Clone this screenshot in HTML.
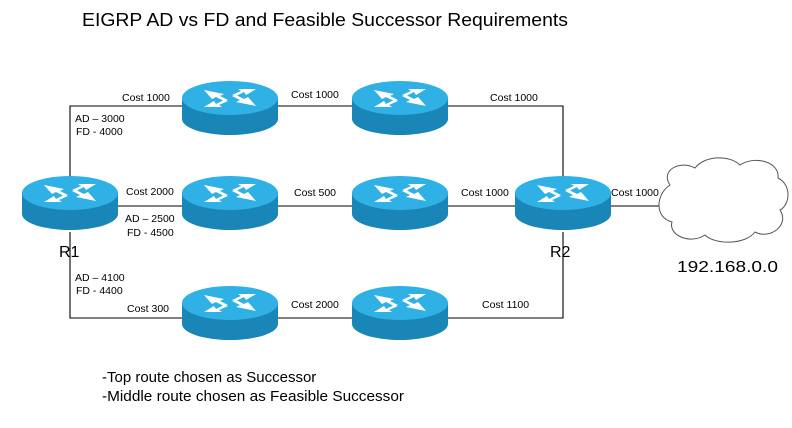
<!DOCTYPE html>
<html><head><style>
html,body{margin:0;padding:0;background:#fff;}
svg{display:block;font-family:"Liberation Sans",Arial,sans-serif;}
</style></head><body>
<svg width="792" height="428" viewBox="0 0 792 428" xmlns="http://www.w3.org/2000/svg">
<defs>
<g id="rt">
 <path d="M-48,0 L-48,21 A48,16 0 0 0 48,21 L48,0 Z" fill="#1a86b8"/>
 <ellipse cx="0" cy="0" rx="48" ry="17" fill="#2fb1e6"/>
 <g fill="#fff">
  <polygon points="-26,-8 -6,-4 -10,-2 -2,2 -6,3 -14,-1 -18,1"/>
  <polygon points="26,-9 8,-9 11,-7 2,-3 6,-2 14,-6 16,-3"/>
  <polygon points="-26,9 -8,9 -11,7 -2,3 -6,2 -14,6 -16,3"/>
  <polygon points="26,8 6,4 10,2 2,-2 6,-3 14,1 18,-1"/>
 </g>
</g>
</defs>
<text x="82" y="26" font-size="18.5" fill="#000" textLength="486" lengthAdjust="spacingAndGlyphs">EIGRP AD vs FD and Feasible Successor Requirements</text>
<g stroke="#000" stroke-width="1.1" fill="none">
 <polyline points="70,180 70,106 563,106 563,180"/>
 <line x1="70" y1="206" x2="660" y2="206"/>
 <polyline points="70,232 70,318 563,318 563,232"/>
</g>
<use href="#rt" x="70" y="193"/>
<use href="#rt" x="230" y="98"/>
<use href="#rt" x="400" y="98"/>
<use href="#rt" x="230" y="193"/>
<use href="#rt" x="400" y="193"/>
<use href="#rt" x="563" y="193"/>
<use href="#rt" x="230" y="303"/>
<use href="#rt" x="400" y="303"/>
<path d="M670,185 C660,170 680,160 695,168 C705,155 730,155 740,165 C755,155 780,162 778,178 C792,185 790,205 780,210 C790,225 770,240 755,232 C745,245 715,245 705,235 C690,245 668,235 672,222 C655,218 655,195 670,185 Z" fill="#fff" stroke="#555" stroke-width="1"/>
<g font-size="10.5" fill="#000">
 <text x="122" y="101">Cost 1000</text>
 <text x="291" y="98">Cost 1000</text>
 <text x="490" y="101">Cost 1000</text>
 <text x="75" y="122">AD – 3000</text>
 <text x="76" y="135">FD - 4000</text>
 <text x="126" y="195">Cost 2000</text>
 <text x="294" y="196">Cost 500</text>
 <text x="461" y="196">Cost 1000</text>
 <text x="611" y="196">Cost 1000</text>
 <text x="125" y="222">AD – 2500</text>
 <text x="127" y="236">FD - 4500</text>
 <text x="75" y="281">AD – 4100</text>
 <text x="76" y="294">FD - 4400</text>
 <text x="127" y="312">Cost 300</text>
 <text x="291" y="308">Cost 2000</text>
 <text x="482" y="308">Cost 1100</text>
</g>
<text x="59" y="257" font-size="16">R1</text>
<text x="550" y="257" font-size="16">R2</text>
<text x="677" y="272" font-size="15.5" textLength="101" lengthAdjust="spacingAndGlyphs">192.168.0.0</text>
<text x="102" y="382" font-size="15">-Top route chosen as Successor</text>
<text x="102" y="401" font-size="15" textLength="302" lengthAdjust="spacingAndGlyphs">-Middle route chosen as Feasible Successor</text>
</svg>
</body></html>
